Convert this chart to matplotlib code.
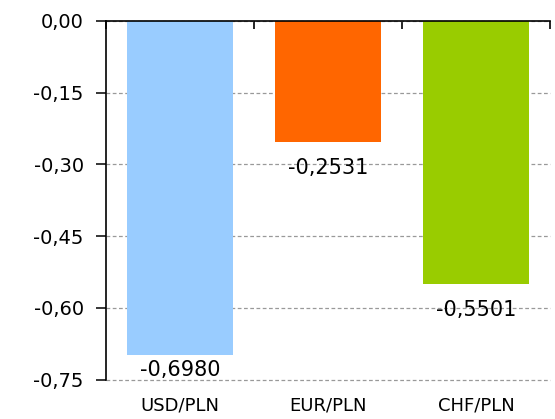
import matplotlib
matplotlib.use("Agg")
import matplotlib.pyplot as plt
from matplotlib.ticker import FuncFormatter

categories = ["USD/PLN", "EUR/PLN", "CHF/PLN"]
values = [-0.6980, -0.2531, -0.5501]
colors = ["#99CCFF", "#FF6600", "#99CC00"]
yticks = [0.0, -0.15, -0.30, -0.45, -0.60, -0.75]

plt.rcParams['font.family'] = ['DejaVu Sans']

W, H = 555, 419
L, R, T, B = 106, 550, 21, 379.5
fig = plt.figure(figsize=(W / 100, H / 100), dpi=100)
ax = fig.add_axes([L / W, 1 - B / H, (R - L) / W, (B - T) / H])

x = list(range(len(categories)))
ax.bar(x, values, width=0.72, color=colors, zorder=2)

ymin, ymax = -0.75, 0.0
ax.set_xlim(-0.5, len(categories) - 0.5)
ax.set_ylim(ymin, ymax)
ax.set_yticks(yticks)
ax.yaxis.set_major_formatter(FuncFormatter(
    lambda v, p: f"{v:.2f}".replace(".", ",").replace("-0,00", "0,00")))
ax.tick_params(axis='y', direction='out', length=7, width=1.1, labelsize=14, pad=9)

ax.grid(axis='y', linestyle=(0, (3, 2)), color='#999999', linewidth=0.9, zorder=0)
ax.set_axisbelow(True)
for gl in ax.get_ygridlines():
    gl.set_clip_on(False)

# category axis sits at y = 0 (top): boundary ticks pointing into the plot
ax.set_xticks([-0.5 + i for i in range(len(categories) + 1)])
ax.set_xticks(x, categories, minor=True)
ax.tick_params(axis='x', which='major', top=True, bottom=False, labelbottom=False,
               direction='in', length=6, width=1.2)
ax.tick_params(axis='x', which='minor', top=False, bottom=True, length=0,
               labelbottom=True, labelsize=13, pad=12)

ax.spines['bottom'].set_visible(False)
ax.spines['right'].set_visible(False)
ax.spines['top'].set_linewidth(1.2)
ax.spines['top'].set_zorder(3)
ax.spines['left'].set_linewidth(1.2)

# value labels: baseline ~32 px below bar end, kept inside the plot area
units_per_px = (ymax - ymin) / (B - T)
for xi, v in zip(x, values):
    y_lab = max(v - 32 * units_per_px, ymin + 3 * units_per_px)
    ax.text(xi, y_lab, f"{v:.4f}".replace(".", ","), ha='center', va='baseline',
            fontsize=15, zorder=3)

fig.savefig("out.png", dpi=100)
